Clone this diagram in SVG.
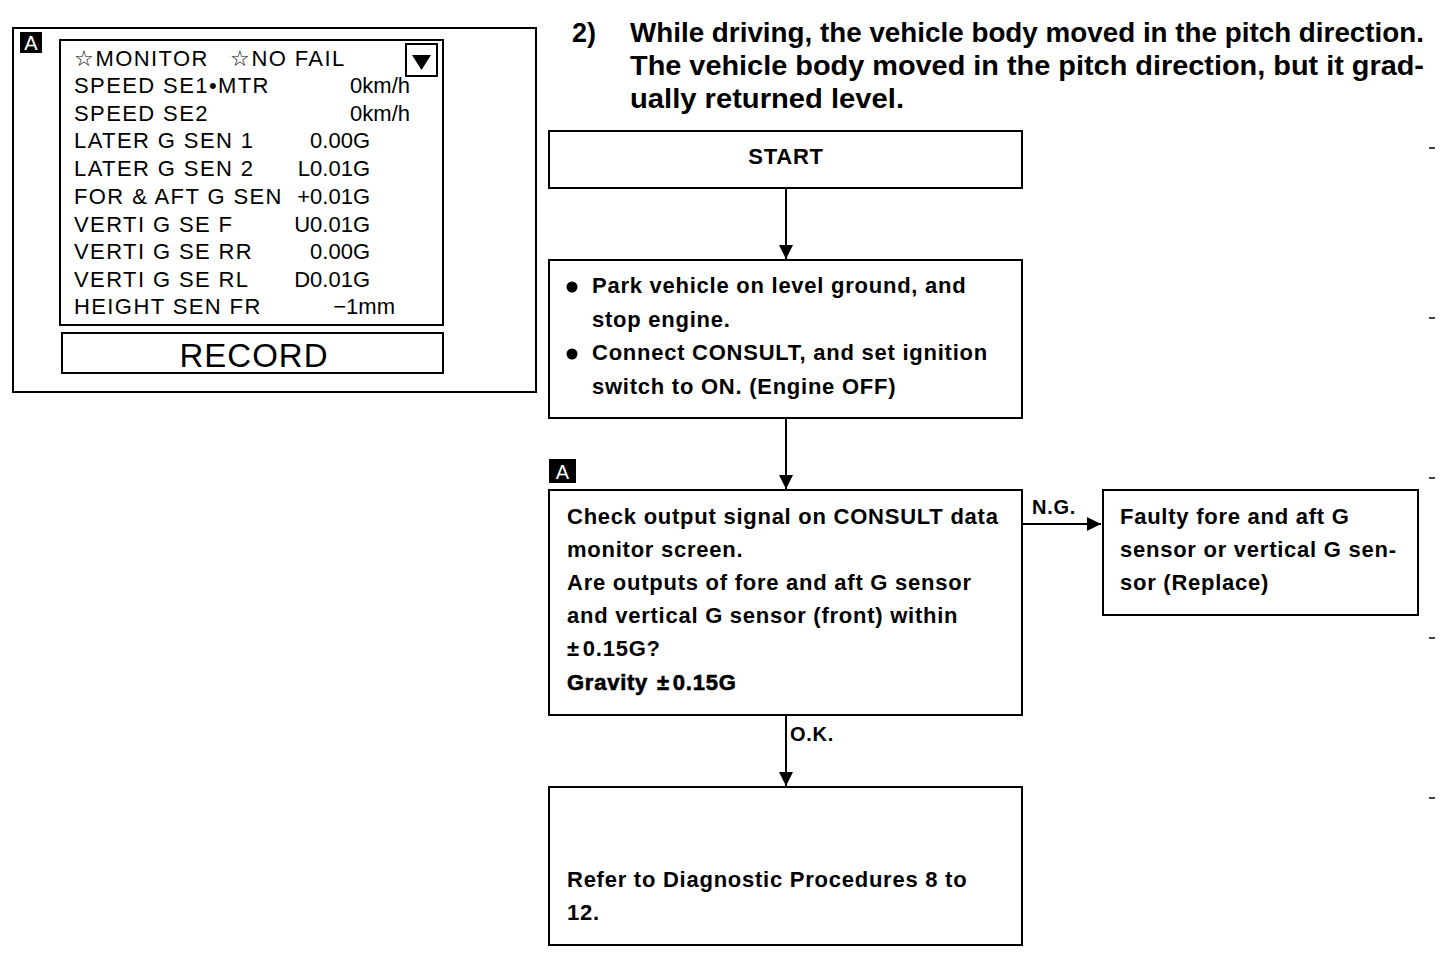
<svg xmlns="http://www.w3.org/2000/svg" width="1456" height="956" viewBox="0 0 1456 956">
<style>
  .frame{fill:none;stroke:#000;stroke-width:2}
  .box{fill:#fff;stroke:#000;stroke-width:2}
  .scr{font-family:"Liberation Sans",Arial,sans-serif;font-size:22px;fill:#000}
  .lbl{letter-spacing:1.4px}
  .fc{font-family:"Liberation Sans",Arial,sans-serif;font-size:22px;font-weight:bold;letter-spacing:0.75px;fill:#000}
  .ttl{font-family:"Liberation Sans",Arial,sans-serif;font-size:27px;font-weight:bold;fill:#000}
  .badge{font-family:"Liberation Sans",Arial,sans-serif;font-size:20px;fill:#fff}
  .conn{fill:none;stroke:#000;stroke-width:2}
</style>
<defs>
  <marker id="arrow" viewBox="0 0 14 14" refX="14" refY="7" markerWidth="14" markerHeight="14" markerUnits="userSpaceOnUse" orient="auto">
    <path d="M0,0 L14,7 L0,14 Z" fill="#000"/>
  </marker>
</defs>
<rect width="1456" height="956" fill="#fff"/>

<g id="monitor-panel">
  <rect class="frame" x="13" y="28" width="523" height="364"/>
  <rect x="20" y="32" width="22" height="21" fill="#000"/>
  <text class="badge" x="31" y="50" text-anchor="middle">A</text>
  <rect class="frame" x="60" y="40" width="383" height="285" stroke-width="3"/>
  <rect class="frame" x="406" y="44" width="31" height="32" stroke-width="3"/>
  <path d="M412,55 L431,55 L421.5,70 Z" fill="#000"/>
  <g class="scr">
    <text class="lbl" x="74" y="66">☆MONITOR</text>
    <text class="lbl" x="230" y="66">☆NO FAIL</text>
    <text class="lbl" x="74" y="93">SPEED SE1•MTR</text><text x="410" y="93" text-anchor="end">0km/h</text>
    <text class="lbl" x="74" y="121">SPEED SE2</text><text x="410" y="121" text-anchor="end">0km/h</text>
    <text class="lbl" x="74" y="148">LATER G SEN 1</text><text x="370" y="148" text-anchor="end">0.00G</text>
    <text class="lbl" x="74" y="176">LATER G SEN 2</text><text x="370" y="176" text-anchor="end">L0.01G</text>
    <text class="lbl" x="74" y="204">FOR &amp; AFT G SEN</text><text x="370" y="204" text-anchor="end">+0.01G</text>
    <text class="lbl" x="74" y="232">VERTI G SE F</text><text x="370" y="232" text-anchor="end">U0.01G</text>
    <text class="lbl" x="74" y="259">VERTI G SE RR</text><text x="370" y="259" text-anchor="end">0.00G</text>
    <text class="lbl" x="74" y="287">VERTI G SE RL</text><text x="370" y="287" text-anchor="end">D0.01G</text>
    <text class="lbl" x="74" y="314">HEIGHT SEN FR</text><text x="395" y="314" text-anchor="end">−1mm</text>
  </g>
  <rect class="frame" x="62" y="333" width="381" height="40" stroke-width="3"/>
  <text x="254" y="367" text-anchor="middle" style="font-family:'Liberation Sans',Arial,sans-serif;font-size:33px;letter-spacing:1px;fill:#000">RECORD</text>
</g>

<g id="title">
  <text class="ttl" x="572" y="42">2)</text>
  <text class="ttl" x="630" y="42" textLength="794" lengthAdjust="spacingAndGlyphs">While driving, the vehicle body moved in the pitch direction.</text>
  <text class="ttl" x="630" y="75" textLength="794" lengthAdjust="spacingAndGlyphs">The vehicle body moved in the pitch direction, but it grad-</text>
  <text class="ttl" x="630" y="108" textLength="274" lengthAdjust="spacingAndGlyphs">ually returned level.</text>
</g>

<g id="connectors">
  <line class="conn" x1="786" y1="188" x2="786" y2="259" marker-end="url(#arrow)"/>
  <line class="conn" x1="786" y1="418" x2="786" y2="489" marker-end="url(#arrow)"/>
  <line class="conn" x1="1022" y1="524" x2="1101" y2="524" marker-end="url(#arrow)"/>
  <line class="conn" x1="786" y1="715" x2="786" y2="786" marker-end="url(#arrow)"/>
  <text class="fc" x="1032" y="514" style="font-size:20px">N.G.</text>
  <text class="fc" x="790" y="741" style="font-size:20px">O.K.</text>
</g>

<g id="start">
  <rect class="box" x="549" y="131" width="473" height="57"/>
  <text class="fc" x="786" y="164" text-anchor="middle">START</text>
</g>

<g id="park">
  <rect class="box" x="549" y="260" width="473" height="158"/>
  <circle cx="572" cy="287" r="5.5" fill="#000"/>
  <circle cx="572" cy="354" r="5.5" fill="#000"/>
  <text class="fc" x="592" y="293">Park vehicle on level ground, and</text>
  <text class="fc" x="592" y="327">stop engine.</text>
  <text class="fc" x="592" y="360">Connect CONSULT, and set ignition</text>
  <text class="fc" x="592" y="394">switch to ON. (Engine OFF)</text>
</g>

<g id="check">
  <rect x="549" y="459" width="27" height="24" fill="#000"/>
  <text class="badge" x="562.5" y="479" text-anchor="middle">A</text>
  <rect class="box" x="549" y="490" width="473" height="225"/>
  <text class="fc" x="567" y="524">Check output signal on CONSULT data</text>
  <text class="fc" x="567" y="557">monitor screen.</text>
  <text class="fc" x="567" y="590">Are outputs of fore and aft G sensor</text>
  <text class="fc" x="567" y="623">and vertical G sensor (front) within</text>
  <text class="fc" x="567" y="656">±<tspan dx="3">0.15G?</tspan></text>
  <text class="fc" x="567" y="690" style="stroke:#000;stroke-width:0.6">Gravity<tspan x="657">±</tspan><tspan dx="3">0.15G</tspan></text>
</g>

<g id="faulty">
  <rect class="box" x="1103" y="490" width="315" height="125"/>
  <text class="fc" x="1120" y="524">Faulty fore and aft G</text>
  <text class="fc" x="1120" y="557">sensor or vertical G sen-</text>
  <text class="fc" x="1120" y="590">sor (Replace)</text>
</g>

<g id="refer">
  <rect class="box" x="549" y="787" width="473" height="158"/>
  <text class="fc" x="567" y="887">Refer to Diagnostic Procedures 8 to</text>
  <text class="fc" x="567" y="920">12.</text>
</g>

<g id="margin-ticks" stroke="#000" stroke-width="1.5">
  <line x1="1429" y1="148" x2="1435" y2="148"/>
  <line x1="1429" y1="318" x2="1435" y2="318"/>
  <line x1="1429" y1="478" x2="1435" y2="478"/>
  <line x1="1429" y1="638" x2="1435" y2="638"/>
  <line x1="1429" y1="798" x2="1435" y2="798"/>
</g>
</svg>
